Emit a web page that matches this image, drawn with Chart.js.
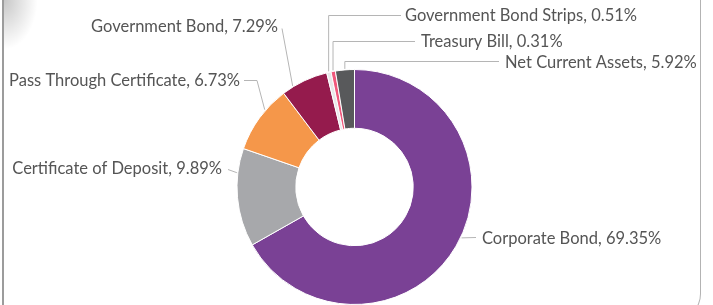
<!DOCTYPE html>
<html>
<head>
<meta charset="utf-8">
<script src="https://cdn.jsdelivr.net/npm/chart.js"></script>
<style>
  html, body { margin: 0; padding: 0; background: #fff; }
  #wrap { position: relative; width: 713px; height: 305px; overflow: hidden; }
  .card { position: absolute; left: 2px; top: -40px; width: 696px; height: 358px;
          border: 1.5px solid #b3b3b3; border-left: 2px solid #9c9c9c;
          border-radius: 0 26px 26px 0; }
  .shade { position: absolute; left: 4px; top: 0; width: 34px; height: 50px;
           background: radial-gradient(ellipse at 0 0, rgba(0,0,0,0.22), rgba(0,0,0,0) 70%); }
  canvas { position: absolute; left: 0; top: 0; }
</style>
</head>
<body>
<div id="wrap">
  <div class="card"></div>
  <div class="shade"></div>
  <canvas id="myChart" width="713" height="305"></canvas>
</div>
<script>
var categories = ['Corporate Bond', 'Certificate of Deposit', 'Pass Through Certificate',
    'Government Bond', 'Government Bond Strips', 'Treasury Bill', 'Net Current Assets'];
// percentages as printed in the labels
var labelPercents = ['69.35%', '9.89%', '6.73%', '7.29%', '0.51%', '0.31%', '5.92%'];
// slice sizes as drawn in the picture
var sliceValues = [66.8, 13.5, 9.4, 6.5, 0.6, 0.6, 2.6];
var sliceColors = ['#7a4195', '#a7a8ab', '#f5974a', '#951b4d', '#e8e8ea', '#f0587c', '#58595b'];

// where each label sits, relative to the pie centre
// f = point along the slice where the connector starts, null x = straight up from it
var labelLayout = [
    {f: 0.48, pts: [[121.5, 50.5]], tx: 127.5, ty: 51.5, align: 'left'},
    {f: 0.75, pts: [[-126.5, -17.5]], tx: -132.5, ty: -18.5, align: 'right'},
    {f: 0.64, pts: [[-97.5, -106.5], [-110.5, -106.5]], tx: -114.5, ty: -106.5, align: 'right'},
    {f: 0.24, pts: [[-72.5, -158.5]], tx: -76.5, ty: -160.5, align: 'right'},
    {f: 0.5, pts: [[null, -171.5], [46.5, -171.5]], tx: 50.5, ty: -171.5, align: 'left'},
    {f: 0.5, pts: [[null, -145.5], [60.5, -145.5]], tx: 66.5, ty: -145.5, align: 'left'},
    {f: 0.5, pts: [[null, -125.5], [144.5, -125.5]], tx: 150.5, ty: -124.5, align: 'left'}
];

var pieLabels = {
    id: 'pieLabels',
    afterDraw: function (chart) {
        var ctx = chart.ctx;
        var arcs = chart.getDatasetMeta(0).data;
        ctx.save();
        ctx.font = '16.5px Lato';
        ctx.textBaseline = 'middle';
        arcs.forEach(function (arc, i) {
            var lay = labelLayout[i];
            var a = arc.startAngle + lay.f * (arc.endAngle - arc.startAngle);
            var ax = arc.x + Math.cos(a) * (arc.outerRadius + 1);
            var ay = arc.y + Math.sin(a) * (arc.outerRadius + 1);
            ctx.strokeStyle = '#b5b5b5';
            ctx.lineWidth = 1;
            ctx.beginPath();
            ctx.moveTo(ax, ay);
            lay.pts.forEach(function (p) {
                var px = p[0] === null ? ax : arc.x + p[0];
                ctx.lineTo(px, arc.y + p[1]);
            });
            ctx.stroke();
            ctx.fillStyle = '#555555';
            ctx.textAlign = lay.align;
            ctx.fillText(categories[i] + ', ' + labelPercents[i], arc.x + lay.tx, arc.y + lay.ty);
        });
        ctx.restore();
    }
};

var ctx = document.getElementById('myChart').getContext('2d');
var chart = new Chart(ctx, {
    type: 'doughnut',
    data: {
        labels: categories,
        datasets: [{
            data: sliceValues,
            backgroundColor: sliceColors,
            borderColor: '#ffffff',
            borderWidth: 1,
            hoverOffset: 0
        }]
    },
    options: {
        responsive: false,
        animation: false,
        cutout: '50%',
        layout: {padding: {top: 69, bottom: 0, left: 0, right: 4}},
        plugins: {
            legend: {display: false},
            tooltip: {enabled: false}
        }
    },
    plugins: [pieLabels]
});
</script>
</body>
</html>
